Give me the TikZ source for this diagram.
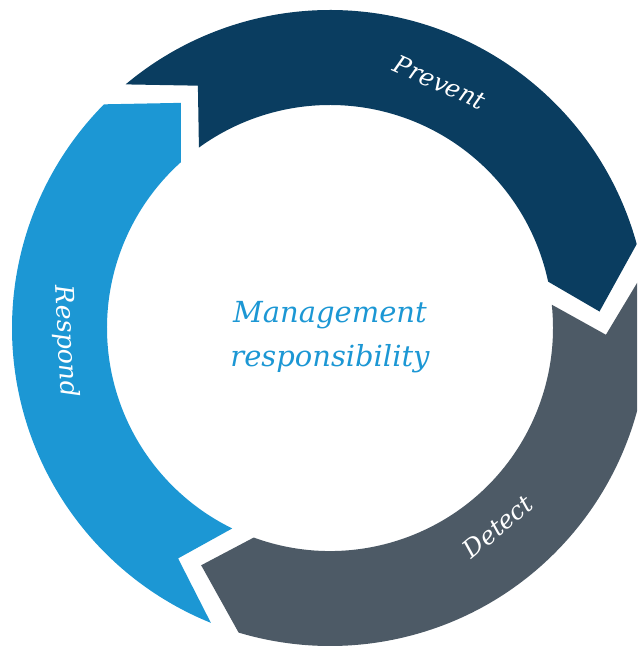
\documentclass[tikz,border=0pt]{standalone}
\usepackage{fontspec}
\setmainfont{DejaVu Serif}
\usetikzlibrary{positioning}

\definecolor{preventblue}{HTML}{0A3D60}
\definecolor{detectgray}{HTML}{4D5A66}
\definecolor{respondblue}{HTML}{1C97D4}

\begin{document}
\begin{tikzpicture}[x=0.02cm, y=0.02cm,
                    ringlabel/.style={text=white, font=\fontsize{14}{16}\selectfont\itshape, inner sep=0pt},
                    midlabel/.style={text=respondblue, align=center, font=\fontsize{16.5}{25}\selectfont\itshape, inner sep=0pt},
                ]
                    \useasboundingbox (-330,-320) rectangle (307,328);
                    \clip (-330,-320) rectangle (307,328);

                    %Segments
                    \fill[preventblue] (126:223) -- (118.6:276) -- (130:318) arc[start angle=130, end angle=15.3, radius=318]
                        -- (3.5:270) -- (12:223) arc[start angle=12, end angle=126, radius=223] -- cycle;
                    \fill[detectgray] (6:223) -- (-1.4:276) -- (10:318) arc[start angle=10, end angle=-106.7, radius=318]
                        -- (-118.5:270) -- (-110:223) arc[start angle=-110, end angle=6, radius=223] -- cycle;
                    \fill[respondblue] (244:223) -- (236.6:276) -- (248:318) arc[start angle=248, end angle=135.3, radius=318]
                        -- (123.5:270) -- (132:223) arc[start angle=132, end angle=244, radius=223] -- cycle;

                    %Nodes
                    \node[ringlabel, rotate=-24](prevent) at (65.9:269) {Prevent};
                    \node[ringlabel, rotate=40](detect) at (-49.8:260) {Detect};
                    \node[ringlabel, rotate=-87, font=\fontsize{14.5}{16}\selectfont\itshape](respond) at (182.9:265) {Respond};
                    \node[midlabel](mgmt) at (0,-9) {Management\\responsibility};
                \end{tikzpicture}
\end{document}
